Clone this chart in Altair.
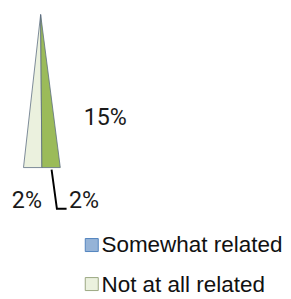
import altair as alt
import pandas as pd

# ---- data ----
categories = ["Very related", "Somewhat related", "Not at all related"]
values = [15, 2, 2]
legend_labels = ["Somewhat related", "Not at all related"]
legend_fill = ["#95B3D7", "#EBF1DE"]
legend_stroke = ["#4F81BD", "#98A57E"]

# ---- layout (plot coordinates, y down) ----
W, H = 275, 283
apex = (33.7, 0)
base_y = 158
base_left, base_mid, base_right = 16, 35, 54

xs = alt.Scale(domain=[0, W], range=[0, W])
ys = alt.Scale(domain=[0, H], reverse=True)
X = lambda f: alt.X(f, type="quantitative", scale=xs, axis=None)
Y = lambda f: alt.Y(f, type="quantitative", scale=ys, axis=None)

faces = pd.DataFrame({
    "face": ["light", "light", "green", "green"],
    "y": [apex[1], base_y, apex[1], base_y],
    "x1": [apex[0], base_left, apex[0], base_mid],
    "x2": [apex[0], base_mid, apex[0], base_right],
})

cone = alt.Chart(faces).mark_area(orient="horizontal", stroke="#5B6B80", strokeWidth=0.8).encode(
    y=Y("y"), x=X("x1"), x2="x2",
    fill=alt.Fill("face:N", scale=alt.Scale(domain=["light", "green"], range=["#EBF1DE", "#9BBB59"]), legend=None),
    detail="face:N",
)

leader = pd.DataFrame({"o": [0, 1, 2], "x": [45, 50.5, 60.5], "y": [160, 200.5, 200.5]})
leader_line = alt.Chart(leader).mark_line(color="#000000", strokeWidth=2).encode(
    x=X("x"), y=Y("y"), order="o:Q")

labels = pd.DataFrame({
    "text": [f"{values[0]}%", f"{values[2]}%", f"{values[1]}%"],
    "x": [100.5, 19.5, 78.5],
    "y": [113.7, 200, 200],
})
label_text = alt.Chart(labels).mark_text(font="Roboto", fontSize=24, color="#1a1a1a",
                                          baseline="alphabetic", align="center").encode(
    x=X("x"), y=Y("y"), text="text:N")

leg = pd.DataFrame({
    "label": legend_labels,
    "fill": legend_fill,
    "stroke": legend_stroke,
    "sx": [86.5, 86.5],
    "sy": [238, 278.3],
    "tx": [96.5, 96.5],
    "ty": [245, 286],
})
leg_sq = alt.Chart(leg).mark_square(size=180, opacity=1, strokeWidth=1).encode(
    x=X("sx"), y=Y("sy"),
    fill=alt.Fill("fill:N", scale=None), stroke=alt.Stroke("stroke:N", scale=None))
leg_tx = alt.Chart(leg).mark_text(font="Liberation Sans", fontSize=23.2, color="#111111",
                                  baseline="alphabetic", align="left").encode(
    x=X("tx"), y=Y("ty"), text="label:N")

chart = alt.layer(cone, leader_line, label_text, leg_sq, leg_tx).properties(
    width=W, height=H, padding=0, background="white"
).configure_view(stroke=None)

chart.save("out.html", embed_options={"renderer": "svg", "actions": False})
